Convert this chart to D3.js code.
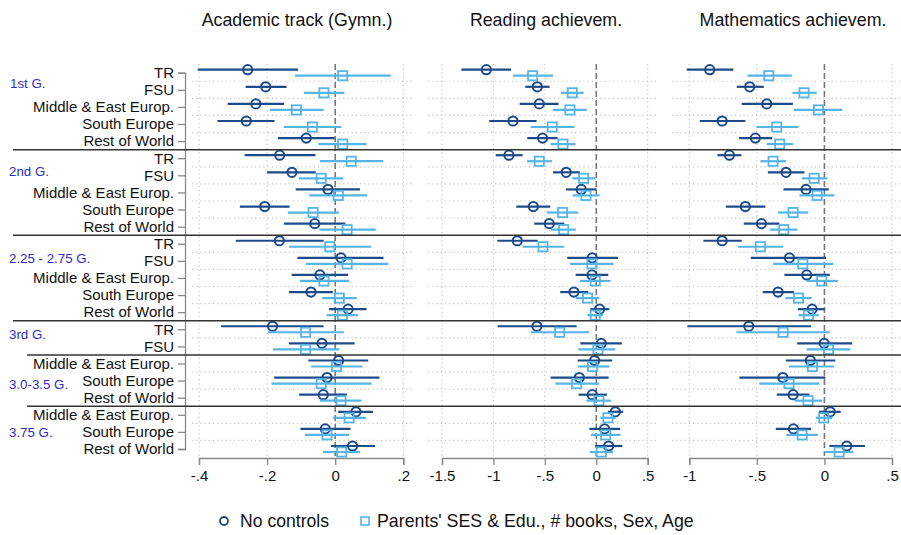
<!DOCTYPE html>
<html><head><meta charset="utf-8">
<script src="https://cdn.jsdelivr.net/npm/d3@7"></script>
<style>body{margin:0;background:#fff} svg{display:block;font-family:Arial,"Liberation Sans",sans-serif}</style>
</head><body>
<svg id="c" width="901" height="535"></svg>
<script>
// ---------- data ----------
const rowLabels = ["TR","FSU","Middle & East Europ.","South Europe","Rest of World",
  "TR","FSU","Middle & East Europ.","South Europe","Rest of World",
  "TR","FSU","Middle & East Europ.","South Europe","Rest of World",
  "TR","FSU",
  "Middle & East Europ.","South Europe","Rest of World",
  "Middle & East Europ.","South Europe","Rest of World"];
const groupNames = ["1st G.","2nd G.","2.25 - 2.75 G.","3rd G.","3.0-3.5 G.","3.75 G."];
const groupSizes = [5,5,5,2,3,3];
const groupLabelRow = [0.6,5.75,10.85,15.3,18.2,21.05];
const seriesNames = ["No controls","Parents' SES & Edu., # books, Sex, Age"];
const panelTitles = ["Academic track (Gymn.)","Reading achievem.","Mathematics achievem."];
const panelTicks = [[-0.4,-0.2,0,0.2],[-1.5,-1,-0.5,0,0.5],[-1,-0.5,0,0.5]];

// Academic track
const gymNo   = [-0.257,-0.204,-0.233,-0.261,-0.085,-0.163,-0.127,-0.021,-0.207,-0.06,-0.164,0.017,-0.045,-0.071,0.038,-0.184,-0.039,0.01,-0.024,-0.035,0.061,-0.029,0.051];
const gymNoLo = [-0.404,-0.263,-0.316,-0.346,-0.168,-0.266,-0.2,-0.116,-0.28,-0.15,-0.292,-0.111,-0.128,-0.136,-0.018,-0.335,-0.136,-0.079,-0.179,-0.106,0.009,-0.102,-0.012];
const gymNoHi = [-0.109,-0.143,-0.150,-0.178,-0.002,-0.058,-0.057,0.073,-0.134,0.03,-0.034,0.142,0.038,-0.007,0.092,-0.034,0.057,0.097,0.13,0.034,0.111,0.045,0.117];
const gymC    = [0.022,-0.033,-0.114,-0.067,0.022,0.047,-0.041,0.009,-0.065,0.035,-0.016,0.035,-0.033,0.012,0.021,-0.087,-0.087,0.004,-0.041,0.017,0.041,-0.024,0.019];
const gymCLo  = [-0.118,-0.092,-0.192,-0.151,-0.049,-0.045,-0.107,-0.076,-0.139,-0.047,-0.135,-0.086,-0.104,-0.038,-0.025,-0.197,-0.183,-0.071,-0.187,-0.045,-0.006,-0.089,-0.036];
const gymCHi  = [0.163,0.027,-0.034,0.018,0.092,0.141,0.024,0.094,0.011,0.119,0.106,0.156,0.041,0.063,0.067,0.025,0.011,0.08,0.107,0.077,0.09,0.041,0.073];
// Reading
const readNo   = [-1.069,-0.573,-0.554,-0.81,-0.522,-0.849,-0.292,-0.146,-0.612,-0.457,-0.768,-0.039,-0.042,-0.217,0.032,-0.577,0.049,-0.016,-0.165,-0.039,0.185,0.081,0.12];
const readNoLo = [-1.312,-0.69,-0.745,-1.04,-0.671,-0.978,-0.421,-0.295,-0.777,-0.603,-0.962,-0.282,-0.201,-0.35,-0.058,-0.959,-0.155,-0.181,-0.444,-0.172,0.113,-0.068,-0.01];
const readNoHi = [-0.829,-0.454,-0.366,-0.58,-0.376,-0.716,-0.159,0.003,-0.447,-0.311,-0.57,0.211,0.117,-0.078,0.126,-0.191,0.249,0.155,0.12,0.104,0.262,0.233,0.253];
const readC    = [-0.619,-0.233,-0.256,-0.428,-0.324,-0.554,-0.123,-0.1,-0.327,-0.317,-0.518,-0.042,-0.01,-0.084,-0.01,-0.356,0.016,-0.036,-0.191,0.026,0.113,0.091,0.049];
const readCLo  = [-0.81,-0.343,-0.424,-0.638,-0.444,-0.674,-0.233,-0.23,-0.479,-0.44,-0.716,-0.256,-0.159,-0.198,-0.087,-0.638,-0.175,-0.175,-0.398,-0.097,0.039,-0.052,-0.062];
const readCHi  = [-0.421,-0.123,-0.091,-0.211,-0.201,-0.431,-0.01,0.032,-0.175,-0.198,-0.311,0.168,0.139,0.029,0.065,-0.071,0.185,0.126,0.029,0.143,0.188,0.236,0.162];
// Mathematics
const mathNo   = [-0.849,-0.553,-0.427,-0.757,-0.511,-0.703,-0.284,-0.136,-0.585,-0.466,-0.757,-0.259,-0.131,-0.343,-0.091,-0.56,-0.002,-0.104,-0.308,-0.232,0.042,-0.229,0.165];
const mathNoLo = [-1.019,-0.649,-0.612,-0.923,-0.632,-0.792,-0.419,-0.303,-0.73,-0.597,-0.896,-0.545,-0.296,-0.456,-0.197,-1.014,-0.202,-0.286,-0.629,-0.353,-0.039,-0.36,0.037];
const mathNoHi = [-0.674,-0.449,-0.234,-0.585,-0.387,-0.614,-0.148,0.032,-0.437,-0.333,-0.612,0.012,0.039,-0.225,0.002,-0.099,0.205,0.081,0.007,-0.111,0.121,-0.099,0.301];
const mathC    = [-0.412,-0.151,-0.044,-0.353,-0.331,-0.38,-0.076,-0.054,-0.232,-0.301,-0.474,-0.16,-0.02,-0.192,-0.118,-0.306,0.03,-0.089,-0.262,-0.121,-0.005,-0.165,0.109];
const mathCLo  = [-0.57,-0.237,-0.225,-0.503,-0.427,-0.474,-0.168,-0.185,-0.345,-0.402,-0.639,-0.38,-0.131,-0.289,-0.192,-0.651,-0.131,-0.262,-0.481,-0.222,-0.064,-0.281,0];
const mathCHi  = [-0.242,-0.057,0.133,-0.192,-0.232,-0.284,0.022,0.074,-0.121,-0.2,-0.306,0.064,0.099,-0.094,-0.042,0.039,0.192,0.072,-0.037,-0.017,0.057,-0.049,0.215];

// ---------- layout ----------
const DARK = "#1d4b8a", LIGHT = "#56b5e6", GROUPC = "#2c2cc8";
const svg = d3.select("#c");
const nRows = rowLabels.length;
const y = d3.scaleLinear().domain([0, nRows-1]).range([72.7, 449]);
const OFF = 3;
const plotTop = 64, plotBot = 456, axisY = 458;

const panels = [
  {title: panelTitles[0], tx: 297, domain:[-0.4,0.2], range:[199,403.3], region:[192,413], ticks: panelTicks[0],
   s:[[gymNo,gymNoLo,gymNoHi],[gymC,gymCLo,gymCHi]]},
  {title: panelTitles[1], tx: 546, domain:[-1.5,0.5], range:[442,647.7], region:[428,658], ticks: panelTicks[1],
   s:[[readNo,readNoLo,readNoHi],[readC,readCLo,readCHi]]},
  {title: panelTitles[2], tx: 793, domain:[-1,0.5], range:[689.3,892], region:[672,900], ticks: panelTicks[2],
   s:[[mathNo,mathNoLo,mathNoHi],[mathC,mathCLo,mathCHi]]}
];

// separators / group boundaries
const sepRows = [];
let acc = 0;
groupSizes.forEach((g,i)=>{ acc += g; if (i < groupSizes.length-1) sepRows.push(acc-1); });
const rowsWithGrid = d3.range(nRows-1).filter(r => !sepRows.includes(r));
const fmt = v => v === 0 ? "0" : String(v).replace(/^(-?)0\./, "$1.");

panels.forEach(p => {
  const x = d3.scaleLinear().domain(p.domain).range(p.range);
  const g = svg.append("g");
  // horizontal dotted gridlines
  g.selectAll(".hg").data(rowsWithGrid).join("line")
    .attr("x1", p.region[0]).attr("x2", p.region[1])
    .attr("y1", r => y(r+0.5)).attr("y2", r => y(r+0.5))
    .attr("stroke", "#c4c4c4").attr("stroke-width", 1.2).attr("stroke-dasharray", "1.2,3");
  // vertical dotted gridlines
  g.selectAll(".vg").data(p.ticks.filter(t => t !== 0)).join("line")
    .attr("x1", d => x(d)).attr("x2", d => x(d))
    .attr("y1", plotTop).attr("y2", plotBot)
    .attr("stroke", "#c4c4c4").attr("stroke-width", 1.2).attr("stroke-dasharray", "1.2,3");
  // zero line
  g.append("line").attr("x1", x(0)).attr("x2", x(0)).attr("y1", plotTop).attr("y2", plotBot)
    .attr("stroke", "#777").attr("stroke-width", 1.6).attr("stroke-dasharray", "6,3");
  // x axis
  const ax = g.append("g").attr("transform", `translate(0,${axisY})`)
    .call(d3.axisBottom(x).tickValues(p.ticks).tickFormat(fmt).tickSize(7).tickSizeOuter(7).tickPadding(5));
  ax.select(".domain").attr("stroke", "#888").attr("stroke-width", 1.3);
  ax.selectAll(".tick line").attr("stroke", "#888").attr("stroke-width", 1.3);
  ax.selectAll(".tick text").attr("font-size", 15).attr("fill", "#111").attr("font-family", "Arial, 'Liberation Sans', sans-serif");
  // title
  svg.append("text").attr("x", p.tx).attr("y", 26).attr("text-anchor", "middle")
    .attr("font-size", 17.8).attr("fill", "#111").text(p.title);
  // series
  p.s.forEach((ser, si) => {
    const [est, lo, hi] = ser;
    const col = si === 0 ? DARK : LIGHT;
    const dy = si === 0 ? -OFF : OFF;
    const idx = d3.range(nRows);
    g.selectAll(null).data(idx).join("line")
      .attr("x1", i => x(lo[i])).attr("x2", i => x(hi[i]))
      .attr("y1", i => y(i)+dy).attr("y2", i => y(i)+dy)
      .attr("stroke", col).attr("stroke-width", 2.2);
    if (si === 0) {
      g.selectAll(null).data(idx).join("circle")
        .attr("cx", i => x(est[i])).attr("cy", i => y(i)+dy).attr("r", 4.6)
        .attr("fill", "none").attr("stroke", col).attr("stroke-width", 2);
    } else {
      g.selectAll(null).data(idx).join("rect")
        .attr("x", i => x(est[i])-4.6).attr("y", i => y(i)+dy-4.6)
        .attr("width", 9.2).attr("height", 9.2)
        .attr("fill", "none").attr("stroke", col).attr("stroke-width", 1.8);
    }
  });
});

// y axis (left panel)
const yax = svg.append("g").attr("transform", "translate(185,0)")
  .call(d3.axisLeft(y).tickValues(d3.range(nRows)).tickFormat(i => rowLabels[i]).tickSize(7).tickSizeOuter(7).tickPadding(4));
yax.select(".domain").attr("stroke", "#888").attr("stroke-width", 1.3);
yax.selectAll(".tick line").attr("stroke", "#888").attr("stroke-width", 1.3);
yax.selectAll(".tick text").attr("font-size", 15).attr("fill", "#111").attr("font-family", "Arial, 'Liberation Sans', sans-serif");

// separators
svg.selectAll(".sep").data(sepRows).join("line")
  .attr("x1", (r,i) => i < 3 ? 13 : 27).attr("x2", 901)
  .attr("y1", r => y(r+0.5)).attr("y2", r => y(r+0.5))
  .attr("stroke", "#333").attr("stroke-width", 1.5);

// group labels
svg.selectAll(".gl").data(groupNames).join("text")
  .attr("x", (d,i) => i === 0 ? 10 : 9).attr("y", (d,i) => y(groupLabelRow[i]))
  .attr("dy", "0.35em").attr("font-size", 13.3).attr("fill", GROUPC).text(d => d);

// legend
const lg = svg.append("g");
lg.append("circle").attr("cx", 224).attr("cy", 521).attr("r", 4).attr("fill", "none").attr("stroke", DARK).attr("stroke-width", 1.8);
lg.append("text").attr("x", 240).attr("y", 521).attr("dy", "0.35em").attr("font-size", 17.6).attr("fill", "#111").text(seriesNames[0]);
lg.append("rect").attr("x", 361).attr("y", 517).attr("width", 8).attr("height", 8).attr("fill", "none").attr("stroke", LIGHT).attr("stroke-width", 1.6);
lg.append("text").attr("x", 377).attr("y", 521).attr("dy", "0.35em").attr("font-size", 17.8).attr("fill", "#111").text(seriesNames[1]);
</script>
</body></html>
